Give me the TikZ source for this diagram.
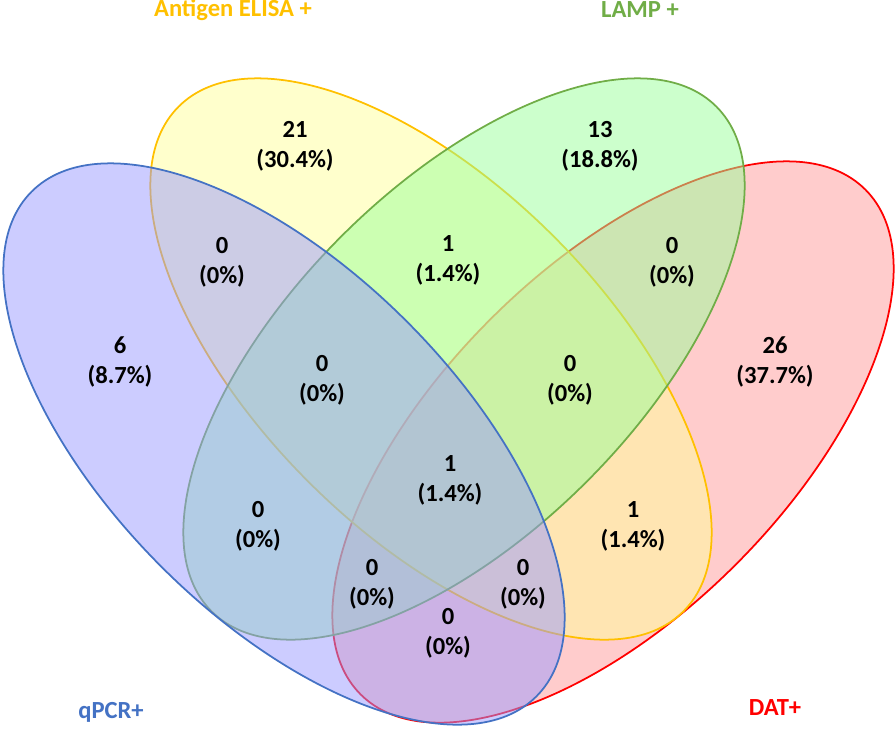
\documentclass[tikz,border=0pt]{standalone}
\usepackage{fontspec}
\setmainfont{Carlito}

\definecolor{qpcrline}{HTML}{4472C4}
\definecolor{elisaline}{HTML}{FFC000}
\definecolor{lampline}{HTML}{70AD47}
\definecolor{datline}{HTML}{FF0000}
\definecolor{qpcrfill}{HTML}{9999FF}
\definecolor{elisafill}{HTML}{FFFF99}
\definecolor{lampfill}{HTML}{99FF99}
\definecolor{datfill}{HTML}{FF9999}

\begin{document}
\begin{tikzpicture}[x=0.02cm, y=-0.02cm,
  venn/.style={line width=1pt, fill opacity=0.5},
  count/.style={font=\fontsize{14}{17}\selectfont\bfseries, align=center, inner sep=0pt},
  setname/.style={font=\fontsize{14}{17}\selectfont\bfseries, inner sep=0pt},
]

% Ellipse dimensions
\def\ra{7.14cm}   % semi-major axis
\def\rb{3.47cm}   % semi-minor axis

\useasboundingbox (0,0) rectangle (896,728);

% ============================================================
% ELLIPSES (back to front)
% ============================================================
\draw[venn, draw=datline, fill=datfill, rotate around={45:(613,442)}]
  (613,442) ellipse [x radius=\ra, y radius=\rb];
\draw[venn, draw=elisaline, fill=elisafill, rotate around={-45:(431,359)}]
  (431,359) ellipse [x radius=\ra, y radius=\rb];
\draw[venn, draw=lampline, fill=lampfill, rotate around={45:(464,359)}]
  (464,359) ellipse [x radius=\ra, y radius=\rb];
\draw[venn, draw=qpcrline, fill=qpcrfill, rotate around={-45:(284,444)}]
  (284,444) ellipse [x radius=\ra, y radius=\rb];

% ============================================================
% SET NAMES
% ============================================================
\node[setname, text=elisaline] (elisa) at (233,10) {Antigen ELISA +};
\node[setname, text=lampline] (lamp) at (640,10) {LAMP +};
\node[setname, text=qpcrline] (qpcr) at (111,712) {qPCR+};
\node[setname, text=datline] (dat) at (775,708) {DAT+};

% ============================================================
% COUNTS
% ============================================================
\node[count] (e) at (295,146) {21\\(30.4\%)};
\node[count] (l) at (600,146) {13\\(18.8\%)};
\node[count] (q) at (120,362) {6\\(8.7\%)};
\node[count] (d) at (775,362) {26\\(37.7\%)};

\node[count] (qe) at (222,262) {0\\(0\%)};
\node[count] (el) at (448,260) {1\\(1.4\%)};
\node[count] (ld) at (672,262) {0\\(0\%)};

\node[count] (qel) at (322,380) {0\\(0\%)};
\node[count] (eld) at (570,380) {0\\(0\%)};
\node[count] (qeld) at (450,480) {1\\(1.4\%)};

\node[count] (ql) at (258,526) {0\\(0\%)};
\node[count] (ed) at (633,526) {1\\(1.4\%)};

\node[count] (qld) at (372,584) {0\\(0\%)};
\node[count] (qed) at (523,584) {0\\(0\%)};
\node[count] (qd) at (448,633) {0\\(0\%)};

\end{tikzpicture}
\end{document}
